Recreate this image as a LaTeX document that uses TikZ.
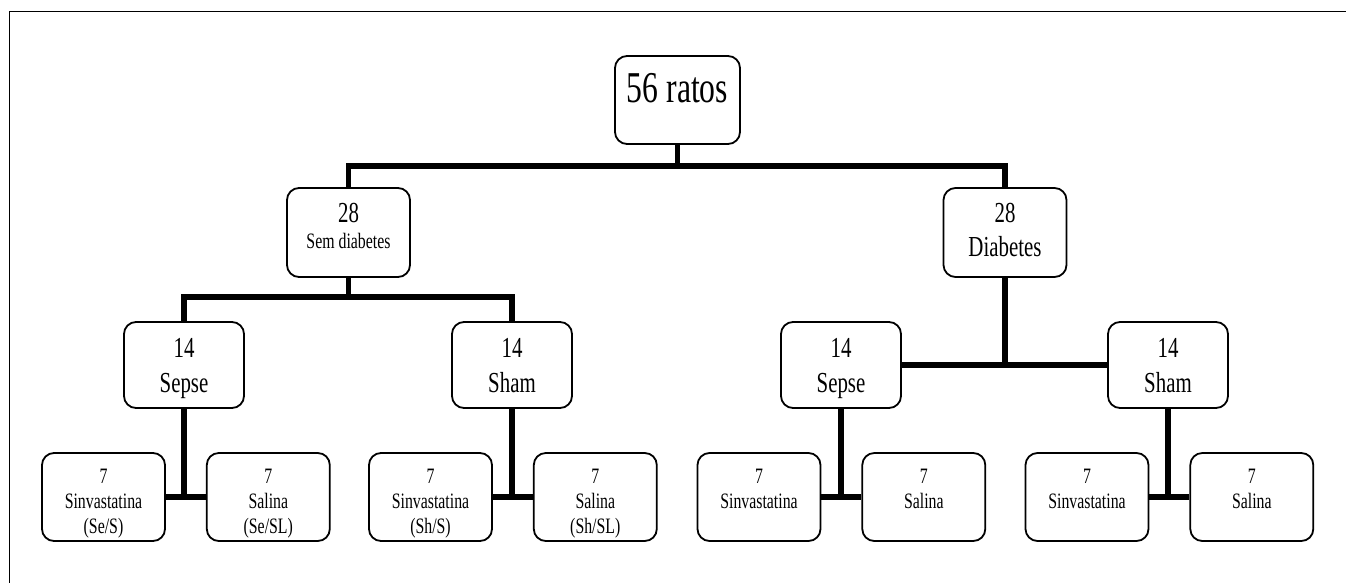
\documentclass[tikz,border=0pt]{standalone}
\usepackage{fontspec}
\setmainfont{Liberation Serif}[FakeStretch=0.72]
\usetikzlibrary{positioning}

\newcommand{\boxlines}[1]{\begin{tabular}[t]{@{}c@{}}#1\end{tabular}}

\tikzset{
  box/.style={draw, line width=1.8pt, rounded corners=12pt, inner sep=0pt},
  rootbox/.style={box, minimum width=125pt, minimum height=88pt, text height=47pt, text depth=41pt, font=\fontsize{44}{50}\selectfont},
  groupbox/.style={box, minimum width=123pt, minimum height=89pt, text height=34pt, text depth=55pt, font=\fontsize{29}{34}\selectfont},
  armbox/.style={box, minimum width=120pt, minimum height=86pt, text height=35pt, text depth=51pt, font=\fontsize{29}{35}\selectfont},
  leafbox/.style={box, minimum width=123pt, minimum height=88pt, text height=30pt, text depth=58pt, font=\fontsize{22}{25}\selectfont},
  conn/.style={line width=5.5pt},
}

\begin{document}
\begin{tikzpicture}[x=1pt,y=-1pt]
\useasboundingbox (0,0) rectangle (1346,583);
\draw[line width=1pt] (9,583) -- (9,12) -- (1346,12);

% top and first split
\node[rootbox]  (root)    at (677.5,100)  {56 ratos};
\node[groupbox] (semdiab) at (348.5,232.5) {\boxlines{28\\[-8pt]{\fontsize{22}{26}\selectfont Sem diabetes}}};
\node[groupbox] (diab)    at (1005,232.5)  {\boxlines{28\\Diabetes}};

% sepse / sham
\node[armbox] (sepseA) at (184,365)  {\boxlines{14\\Sepse}};
\node[armbox] (shamA)  at (512,365)  {\boxlines{14\\Sham}};
\node[armbox] (sepseB) at (841,365)  {\boxlines{14\\Sepse}};
\node[armbox] (shamB)  at (1168,365) {\boxlines{14\\Sham}};

% treatments
\node[leafbox] (sinvA) at (103.5,497) {\boxlines{7\\Sinvastatina\\(Se/S)}};
\node[leafbox, right=40pt of sinvA] (salA) {\boxlines{7\\Salina\\(Se/SL)}};
\node[leafbox] (sinvB) at (430.5,497) {\boxlines{7\\Sinvastatina\\(Sh/S)}};
\node[leafbox, right=40pt of sinvB] (salB) {\boxlines{7\\Salina\\(Sh/SL)}};
\node[leafbox] (sinvC) at (759,497) {\boxlines{7\\Sinvastatina}};
\node[leafbox, right=40pt of sinvC] (salC) {\boxlines{7\\Salina}};
\node[leafbox] (sinvD) at (1087,497) {\boxlines{7\\Sinvastatina}};
\node[leafbox, right=40pt of sinvD] (salD) {\boxlines{7\\Salina}};

% connectors
\draw[conn] (root.south) -- ++(0,23);
\draw[conn] (semdiab.north) -- ++(0,-21) -| (diab.north);
\draw[conn] (semdiab.south) -- ++(0,21);
\draw[conn] (sepseA.north) -- ++(0,-24) -| (shamA.north);
\draw[conn] (diab.south) -- (diab.south |- sepseB.east);
\draw[conn] (sepseB.east) -- (shamB.west);
\draw[conn] (sepseA.south) -- (sepseA.south |- sinvA.east);
\draw[conn] (sinvA.east) -- (salA.west);
\draw[conn] (shamA.south) -- (shamA.south |- sinvB.east);
\draw[conn] (sinvB.east) -- (salB.west);
\draw[conn] (sepseB.south) -- (sepseB.south |- sinvC.east);
\draw[conn] (sinvC.east) -- (salC.west);
\draw[conn] (shamB.south) -- (shamB.south |- sinvD.east);
\draw[conn] (sinvD.east) -- (salD.west);
\end{tikzpicture}
\end{document}
